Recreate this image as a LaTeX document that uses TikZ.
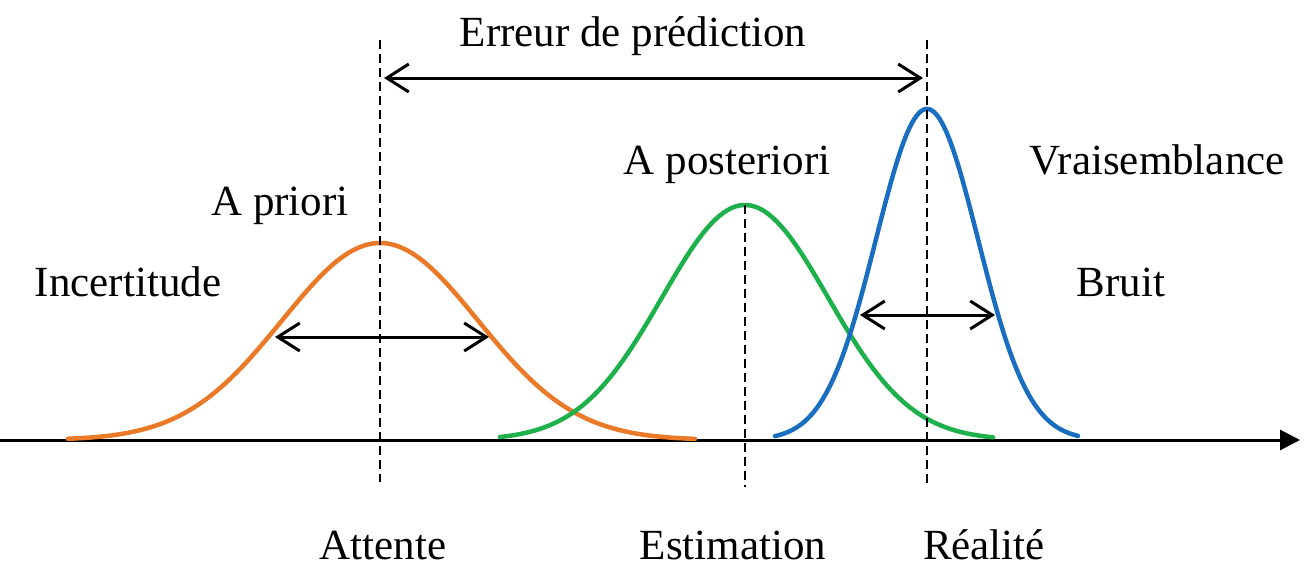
\documentclass[tikz,border=0pt]{standalone}
\usepackage{fontspec}
\setmainfont{Liberation Serif}
\usetikzlibrary{arrows.meta}
\definecolor{corange}{RGB}{234,122,40}
\definecolor{cgreen}{RGB}{30,176,74}
\definecolor{cblue}{RGB}{26,110,192}
\begin{document}
\begin{tikzpicture}[x=1pt,y=-1pt,
  lbl/.style={font=\fontsize{43}{50}\selectfont, inner sep=0pt, anchor=base},
  curve/.style={line width=4.5pt, line cap=round},
  guide/.style={line width=2.4pt, dash pattern=on 9pt off 5pt},
  span/.style={line width=3pt, {Straight Barb[length=22pt,width=28pt]}-{Straight Barb[length=22pt,width=28pt]}},
  axis/.style={line width=3pt, -{Triangle[length=20pt,width=20pt]}}]
\useasboundingbox (0,0) rectangle (1313,578);
% axis
\coordinate (ax0) at (0,440);
\coordinate (ax1) at (1300,440);
\draw[axis] (ax0) -- (ax1);
% curves
\draw[curve, corange] plot[domain=68:695, samples=160, smooth] (\x, {440-197*exp(-0.5*((\x-380)/98)^2)});
\draw[curve, cgreen] plot[domain=500:993, samples=160, smooth] (\x, {440-235*exp(-0.5*((\x-745)/83)^2)});
\draw[curve, cblue] plot[domain=775:1078, samples=160, smooth] (\x, {440-331*exp(-0.5*((\x-927)/51)^2)});
% guide lines
\coordinate (g1t) at (380,40);  \coordinate (g1b) at (380,482);
\coordinate (g2t) at (745,205); \coordinate (g2b) at (745,487);
\coordinate (g3t) at (927,40);  \coordinate (g3b) at (927,487);
\draw[guide] (g1t) -- (g1b);
\draw[guide] (g2t) -- (g2b);
\draw[guide] (g3t) -- (g3b);
% span arrows
\coordinate (e1) at (384,78);  \coordinate (e2) at (923,78);
\draw[span] (e1) -- (e2);
\coordinate (u1) at (275,337); \coordinate (u2) at (489,337);
\draw[span] (u1) -- (u2);
\coordinate (b1) at (860,315); \coordinate (b2) at (995,315);
\draw[span] (b1) -- (b2);
% labels
\node[lbl] (err) at (633,47) {Erreur de prédiction};
\node[lbl] (post) at (727,174) {A posteriori};
\node[lbl] (vrai) at (1157,174) {Vraisemblance};
\node[lbl] (prio) at (280,215) {A priori};
\node[lbl] (inc) at (128,296) {Incertitude};
\node[lbl] (bru) at (1121,296) {Bruit};
\node[lbl] (att) at (383,559) {Attente};
\node[lbl] (est) at (733,559) {Estimation};
\node[lbl] (rea) at (984,559) {Réalité};
\end{tikzpicture}
\end{document}
